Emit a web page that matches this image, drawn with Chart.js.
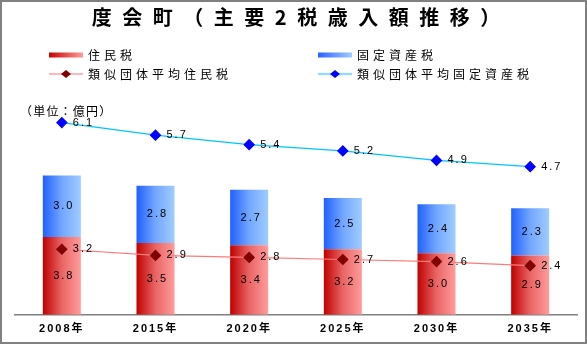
<!DOCTYPE html>
<html>
<head>
<meta charset="utf-8">
<script src="https://cdn.jsdelivr.net/npm/chart.js@4/dist/chart.umd.min.js"></script>
<style>
  body { margin: 0; background: #fff; }
  canvas { display: block; }
</style>
</head>
<body>
<canvas id="taxChart" width="587" height="344"></canvas>
<script>
// chart data
const years = ['2008年', '2015年', '2020年', '2025年', '2030年', '2035年'];
const residentTax = [3.8, 3.5, 3.4, 3.2, 3.0, 2.9];
const propertyTax = [3.0, 2.8, 2.7, 2.5, 2.4, 2.3];
const avgResidentTax = [3.2, 2.9, 2.8, 2.7, 2.6, 2.4];
const avgPropertyTax = [6.1, 5.7, 5.4, 5.2, 4.9, 4.7];

const titleText = '度会町（主要2税歳入額推移）';
const unitText = '（単位：億円）';

const JP = '"Noto Sans CJK JP", sans-serif';
const NUM = '"Liberation Sans", "Noto Sans CJK JP", sans-serif';
const BAR_FRACTION = 0.406;

// horizontal gradient across one bar
function barGradient(ctx, c1, c2) {
    const chart = ctx.chart;
    const xs = chart.scales && chart.scales.x;
    if (!xs || ctx.dataIndex === undefined) return c1;
    const cx = xs.getPixelForValue(ctx.dataIndex);
    const w = (xs.right - xs.left) / years.length * BAR_FRACTION;
    if (!isFinite(cx) || !isFinite(w) || w <= 0) return c1;
    const g = chart.ctx.createLinearGradient(cx - w / 2, 0, cx + w / 2, 0);
    g.addColorStop(0, c1);
    g.addColorStop(0.5, mid(c1, c2));
    g.addColorStop(1, c2);
    return g;
}
function mid(a, b) {
    const p = s => [1, 3, 5].map(i => parseInt(s.substr(i, 2), 16));
    const x = p(a), y = p(b);
    return 'rgb(' + x.map((v, i) => Math.round(v * 0.35 + y[i] * 0.65)).join(',') + ')';
}

// text with letter spacing
function spacedText(ctx, text, x, y, spacing, align) {
    ctx.letterSpacing = spacing + 'px';
    const w = ctx.measureText(text).width - spacing;
    let sx = x;
    if (align === 'center') sx = x - w / 2;
    ctx.textAlign = 'left';
    ctx.fillText(text, sx, y);
}

function diamond(ctx, x, y, r, color) {
    ctx.beginPath();
    ctx.moveTo(x, y - r * 0.8);
    ctx.lineTo(x + r, y);
    ctx.lineTo(x, y + r * 0.8);
    ctx.lineTo(x - r, y);
    ctx.closePath();
    ctx.fillStyle = color;
    ctx.fill();
}

// title, legend, unit, value labels, frame
const decorations = {
    id: 'decorations',
    beforeDraw(chart) {
        chart.ctx.letterSpacing = '2px';
    },
    afterDatasetsDraw(chart) {
        const ctx = chart.ctx;
        ctx.save();
        ctx.fillStyle = '#000';
        ctx.textBaseline = 'middle';
        ctx.font = '11px ' + NUM;
        chart.data.datasets.forEach((ds, di) => {
            const meta = chart.getDatasetMeta(di);
            meta.data.forEach((el, i) => {
                const txt = ds.data[i].toFixed(1);
                if (ds.type === 'bar') {
                    const cy = (el.y + el.base) / 2;
                    spacedText(ctx, txt, el.x + 1, cy, 2, 'center');
                } else {
                    spacedText(ctx, txt, el.x + 11, el.y, 2, 'left');
                }
            });
        });
        ctx.restore();
    },
    afterDraw(chart) {
        const ctx = chart.ctx;
        ctx.save();
        ctx.fillStyle = '#000';
        ctx.textBaseline = 'middle';

        // title
        ctx.font = 'bold 20px ' + JP;
        spacedText(ctx, titleText, 296, 17, 10.5, 'center');

        // legend
        ctx.font = '12px ' + JP;
        const cols = [49, 318];
        const rows = [55, 74];
        const boxes = [['住民税', '#c80000', '#ff9c9c'], ['固定資産税', '#2a62ff', '#a0ccff']];
        boxes.forEach((b, i) => {
            const g = ctx.createLinearGradient(cols[i], 0, cols[i] + 34, 0);
            g.addColorStop(0, b[1]);
            g.addColorStop(1, b[2]);
            ctx.fillStyle = g;
            ctx.fillRect(cols[i], rows[0] - 2.5, 34, 5);
            ctx.fillStyle = '#000';
            spacedText(ctx, b[0], cols[i] + 39, rows[0], 4, 'left');
        });
        const lines = [['類似団体平均住民税', '#ff7070', '#800000'], ['類似団体平均固定資産税', '#00c8ff', '#0000ff']];
        lines.forEach((l, i) => {
            ctx.strokeStyle = l[1];
            ctx.lineWidth = 1.2;
            ctx.beginPath();
            ctx.moveTo(cols[i], rows[1]);
            ctx.lineTo(cols[i] + 34, rows[1]);
            ctx.stroke();
            diamond(ctx, cols[i] + 17, rows[1], 5, l[2]);
            ctx.fillStyle = '#000';
            spacedText(ctx, l[0], cols[i] + 39, rows[1], 4, 'left');
        });

        // unit
        ctx.font = '12px ' + JP;
        spacedText(ctx, unitText, 20, 111, 1.2, 'left');

        // outer frame
        ctx.strokeStyle = '#808080';
        ctx.lineWidth = 2;
        ctx.strokeRect(1, 1, 585, 342);
        ctx.restore();
    }
};

function createChart(ctx) {
    return new Chart(ctx, {
        data: {
            labels: years,
            datasets: [
                {
                    type: 'line',
                    label: '類似団体平均住民税',
                    data: avgResidentTax,
                    yAxisID: 'yR',
                    borderColor: '#ff7a7a',
                    borderWidth: 1.2,
                    pointStyle: 'rectRot',
                    pointRadius: 5,
                    pointBackgroundColor: '#800000',
                    pointBorderColor: '#800000',
                    order: 0,
                },
                {
                    type: 'line',
                    label: '類似団体平均固定資産税',
                    data: avgPropertyTax,
                    yAxisID: 'yP',
                    borderColor: '#00c4ff',
                    borderWidth: 1.2,
                    pointStyle: 'rectRot',
                    pointRadius: 5,
                    pointBackgroundColor: '#0000ff',
                    pointBorderColor: '#0000ff',
                    order: 0,
                },
                {
                    type: 'bar',
                    label: '住民税',
                    data: residentTax,
                    yAxisID: 'y',
                    backgroundColor: c => barGradient(c, '#c00000', '#ff9c9c'),
                    barPercentage: BAR_FRACTION,
                    categoryPercentage: 1,
                    order: 1,
                },
                {
                    type: 'bar',
                    label: '固定資産税',
                    data: propertyTax,
                    yAxisID: 'y',
                    backgroundColor: c => barGradient(c, '#2060ff', '#a0ccff'),
                    barPercentage: BAR_FRACTION,
                    categoryPercentage: 1,
                    order: 1,
                },
            ],
        },
        options: {
            responsive: false,
            animation: false,
            layout: { padding: { left: 15, right: 10, top: 110, bottom: 0 } },
            plugins: {
                legend: { display: false },
                title: { display: false },
                tooltip: { enabled: false },
            },
            scales: {
                x: {
                    stacked: true,
                    grid: { display: true, drawOnChartArea: false, drawTicks: false },
                    border: { display: true, color: '#808080', width: 1.5 },
                    ticks: { color: '#000', padding: 8, font: { family: NUM, size: 11, weight: 'bold' } },
                },
                y: { stacked: true, display: false, min: 0, max: 10 },
                yR: { display: false, min: 0, max: 10 },
                yP: { display: false, min: 0, max: 6.5 },
            },
        },
        plugins: [decorations],
    });
}

document.addEventListener('DOMContentLoaded', () => {
    createChart(document.getElementById('taxChart').getContext('2d'));
});
</script>
</body>
</html>
